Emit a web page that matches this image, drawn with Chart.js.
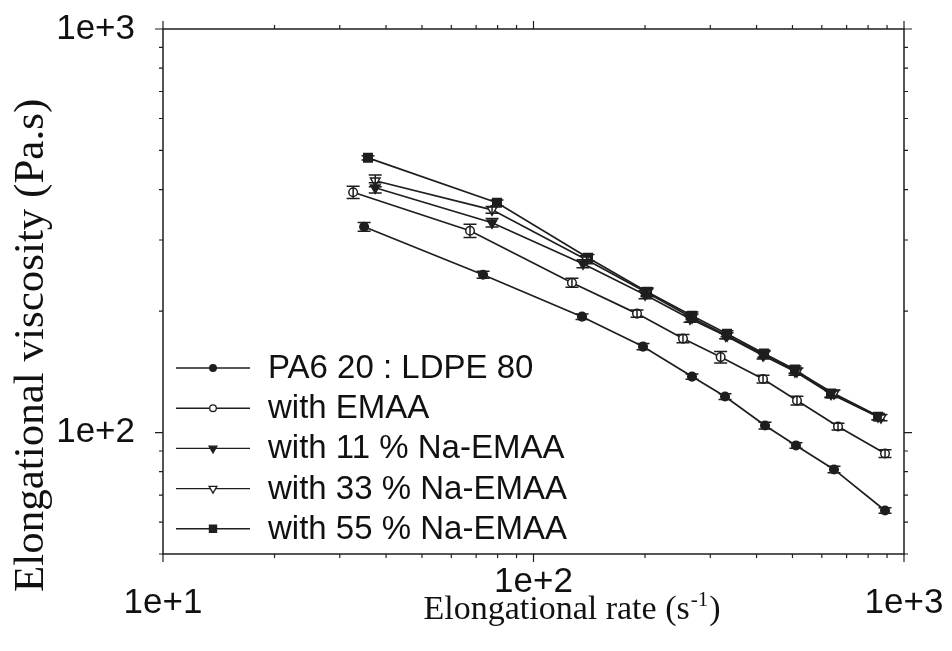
<!DOCTYPE html>
<html><head><meta charset="utf-8">
<script src="https://cdn.jsdelivr.net/npm/chart.js@4.4.1/dist/chart.umd.min.js"></script>
<style>html,body{margin:0;padding:0;background:#fff}canvas{display:block}</style>
</head><body>
<canvas id="c" width="952" height="651"></canvas>
<script>
// ---- data ----
const seriesLabels = ['PA6 20 : LDPE 80', 'with EMAA', 'with 11 % Na-EMAA', 'with 33 % Na-EMAA', 'with 55 % Na-EMAA'];

const ratePA6  = [34.9, 73.1, 135.2, 197.5, 267.8, 328.8, 421.6, 511.0, 647.3, 888.8];
const viscPA6  = [323.5, 246.1, 193.7, 163.3, 137.6, 122.8, 104.1, 92.9, 81.0, 64.1];
const errPA6   = [8, 5, 3, 3, 2, 2, 2, 1.5, 1.5, 1];

const rateEMAA = [32.6, 67.4, 127.0, 190.3, 253.2, 320.0, 416.4, 514.2, 663.6, 888.8];
const viscEMAA = [393.9, 316.2, 235.1, 197.1, 170.9, 153.8, 135.7, 120.0, 103.5, 88.7];
const errEMAA  = [14, 12, 6, 4, 4, 5, 3, 3, 2, 2];

const rate11   = [37.4, 77.3, 136.0, 200.0, 264.5, 330.0, 416.4, 507.8, 635.3, 851.0];
const visc11   = [404.1, 331.0, 262.0, 219.6, 191.5, 173.8, 155.1, 141.6, 124.5, 109.5];
const err11    = [12, 8, 6, 5, 4, 3, 3, 3, 2.5, 2];

const rate33   = [37.4, 77.3, 139.0, 202.5, 267.8, 333.0, 419.0, 514.0, 647.0, 866.9];
const visc33   = [420.6, 356.4, 268.1, 222.1, 192.6, 173.8, 156.0, 141.6, 124.9, 108.9];
const err33    = [14, 7, 6, 5, 4, 3, 3, 3, 2.5, 2];

const rate55   = [35.75, 79.7, 140.3, 202.5, 267.8, 332.9, 419.0, 507.8, 635.3, 851.0];
const visc55   = [479.4, 371.0, 271.2, 223.4, 194.8, 175.8, 156.9, 143.2, 124.9, 109.5];
const err55    = [6, 6, 5, 5, 4, 3, 3, 3, 2.5, 2];

const xTickLabels = {10: '1e+1', 100: '1e+2', 1000: '1e+3'};
const yTickLabels = {100: '1e+2', 1000: '1e+3'};
const xTitleMain = 'Elongational rate (s';
const xTitleSup = '-1';
const xTitleEnd = ')';
const yTitle = 'Elongational viscosity (Pa.s)';

// ---- build ----
const INK = '#1e1e1e';
function pts(xs, ys) { return xs.map((x, i) => ({x: x, y: ys[i]})); }
const styles = [
  {pointStyle: 'circle', rotation: 0, fill: INK, radius: 4.3},
  {pointStyle: 'circle', rotation: 0, fill: '#ffffff', radius: 4.3},
  {pointStyle: 'triangle', rotation: 180, fill: INK, radius: 5.5},
  {pointStyle: 'triangle', rotation: 180, fill: '#ffffff', radius: 5.5},
  {pointStyle: 'rect', rotation: 0, fill: INK, radius: 6}
];
const seriesData = [
  pts(ratePA6, viscPA6), pts(rateEMAA, viscEMAA), pts(rate11, visc11), pts(rate33, visc33), pts(rate55, visc55)
];
const seriesErr = [errPA6, errEMAA, err11, err33, err55];

const datasets = seriesLabels.map((lab, i) => ({
  label: lab,
  data: seriesData[i],
  errors: seriesErr[i],
  borderColor: INK,
  borderWidth: 1.7,
  pointStyle: styles[i].pointStyle,
  pointRotation: styles[i].rotation,
  pointRadius: styles[i].radius,
  pointBackgroundColor: styles[i].fill,
  pointBorderColor: INK,
  pointBorderWidth: 1.5,
  showLine: true,
  fill: false,
  tension: 0
}));

function decadeTicks(min, max) {
  const out = [];
  for (let d = 1; d <= 1000; d *= 10) {
    for (let m = 1; m <= 9; m++) {
      const v = m * d;
      if (v >= min - 1e-9 && v <= max + 1e-9) out.push(v);
    }
  }
  return out;
}

const errorBarPlugin = {
  id: 'errorBars',
  afterDatasetsDraw(chart) {
    const ctx = chart.ctx, ys = chart.scales.y;
    ctx.save();
    ctx.strokeStyle = INK;
    ctx.lineWidth = 1.5;
    chart.data.datasets.forEach((ds, di) => {
      const meta = chart.getDatasetMeta(di);
      meta.data.forEach((el, i) => {
        const v = ds.data[i].y, e = ds.errors[i];
        const yt = ys.getPixelForValue(v + e), yb = ys.getPixelForValue(v - e);
        const x = el.x, w = 6.5;
        ctx.beginPath();
        ctx.moveTo(x, yt); ctx.lineTo(x, yb);
        ctx.moveTo(x - w, yt); ctx.lineTo(x + w, yt);
        ctx.moveTo(x - w, yb); ctx.lineTo(x + w, yb);
        ctx.stroke();
      });
    });
    ctx.restore();
  }
};

const framePlugin = {
  id: 'frame',
  afterDraw(chart) {
    const ctx = chart.ctx, a = chart.chartArea, xs = chart.scales.x, ys = chart.scales.y;
    ctx.save();
    ctx.strokeStyle = INK;
    ctx.lineWidth = 1.5;
    ctx.strokeRect(a.left, a.top, a.right - a.left, a.bottom - a.top);
    ctx.lineWidth = 1.2;
    ctx.beginPath();
    decadeTicks(10, 1000).forEach(v => {
      const px = xs.getPixelForValue(v);
      const len = (v in xTickLabels) ? 8 : 4;
      ctx.moveTo(px, a.bottom); ctx.lineTo(px, a.bottom + len);
      ctx.moveTo(px, a.top); ctx.lineTo(px, a.top - len);
    });
    decadeTicks(50, 1000).forEach(v => {
      const py = ys.getPixelForValue(v);
      const len = (v in yTickLabels) ? 8 : 4;
      ctx.moveTo(a.left, py); ctx.lineTo(a.left - len, py);
      ctx.moveTo(a.right, py); ctx.lineTo(a.right + len, py);
    });
    ctx.stroke();

    // axis titles
    ctx.fillStyle = '#111';
    ctx.textBaseline = 'alphabetic';
    const fMain = '34px "Liberation Serif", "Times New Roman", serif';
    const fSup = '21px "Liberation Serif", "Times New Roman", serif';
    ctx.font = fMain;
    const w1 = ctx.measureText(xTitleMain).width, w3 = ctx.measureText(xTitleEnd).width;
    ctx.font = fSup;
    const w2 = ctx.measureText(xTitleSup).width;
    let x0 = 571 - (w1 + w2 + w3) / 2;
    const base = 619;
    ctx.textAlign = 'left';
    ctx.font = fMain; ctx.fillText(xTitleMain, x0, base);
    ctx.font = fSup; ctx.fillText(xTitleSup, x0 + w1 + 1, base - 13);
    ctx.font = fMain; ctx.fillText(xTitleEnd, x0 + w1 + w2 + 2, base);

    ctx.save();
    ctx.translate(43, 592);
    ctx.rotate(-Math.PI / 2);
    ctx.font = '43px "Liberation Serif", "Times New Roman", serif';
    ctx.textAlign = 'left';
    ctx.fillText(yTitle, 0, 0);
    ctx.restore();

    // legend
    const lx0 = 176, lx1 = 250, lm = 213, tx = 268, y0 = 368, dy = 40.2;
    chart.data.datasets.forEach((ds, i) => {
      const y = y0 + i * dy;
      ctx.strokeStyle = INK; ctx.lineWidth = 1.4;
      ctx.beginPath(); ctx.moveTo(lx0, y); ctx.lineTo(lx1, y); ctx.stroke();
      ctx.fillStyle = styles[i].fill; ctx.strokeStyle = INK; ctx.lineWidth = 1.3;
      Chart.helpers.drawPoint(ctx, {pointStyle: styles[i].pointStyle, rotation: styles[i].rotation, radius: styles[i].radius - 1, borderWidth: 1.3}, lm, y);
      ctx.fillStyle = '#111';
      ctx.font = '33px "Liberation Sans", Arial, sans-serif';
      ctx.textBaseline = 'middle';
      ctx.textAlign = 'left';
      ctx.fillText(ds.label, tx, y + 1);
    });
    ctx.restore();
  }
};

const bgPlugin = {
  id: 'bg',
  beforeDraw(chart) {
    const ctx = chart.ctx;
    ctx.save(); ctx.fillStyle = '#fff'; ctx.fillRect(0, 0, chart.width, chart.height); ctx.restore();
  }
};

new Chart(document.getElementById('c'), {
  type: 'scatter',
  data: {datasets: datasets},
  options: {
    responsive: false,
    devicePixelRatio: 1,
    animation: false,
    layout: {padding: {top: 29, right: 48, left: 0, bottom: 0}},
    plugins: {legend: {display: false}, tooltip: {enabled: false}},
    scales: {
      x: {
        type: 'logarithmic', min: 10, max: 1000,
        border: {display: false},
        grid: {display: false, drawTicks: false},
        afterBuildTicks(s) { s.ticks = [10, 100, 1000].map(v => ({value: v, major: true})); },
        afterFit(s) { s.height = 97; s.paddingLeft = 0; s.paddingRight = 0; },
        ticks: {
          autoSkip: false, maxRotation: 0, padding: 18, color: '#111',
          font: {family: '"Liberation Sans", Arial, sans-serif', size: 35, lineHeight: 0.6},
          callback(v) { return v === 100 ? xTickLabels[v] : ['', xTickLabels[v]]; }
        }
      },
      y: {
        type: 'logarithmic', min: 50, max: 1000,
        border: {display: false},
        grid: {display: false, drawTicks: false},
        afterBuildTicks(s) { s.ticks = [100, 1000].map(v => ({value: v, major: true})); },
        afterFit(s) { s.width = 163; s.paddingTop = 0; s.paddingBottom = 0; },
        ticks: {
          autoSkip: false, padding: 28, color: '#111',
          font: {family: '"Liberation Sans", Arial, sans-serif', size: 35},
          callback(v) { return yTickLabels[v] || ''; }
        }
      }
    }
  },
  plugins: [bgPlugin, errorBarPlugin, framePlugin]
});
</script>
</body></html>
